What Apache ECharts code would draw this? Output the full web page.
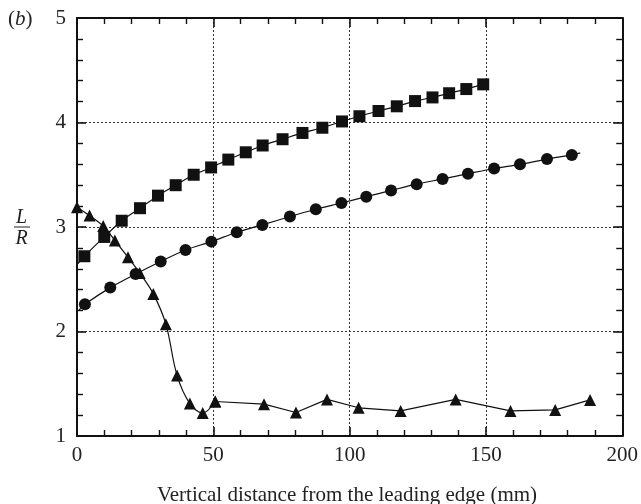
<!DOCTYPE html>
<html>
<head>
<meta charset="utf-8">
<script src="https://cdn.jsdelivr.net/npm/echarts@6/dist/echarts.min.js"></script>
<style>
html,body{margin:0;padding:0;background:#fff;}
#chart{width:641px;height:504px;}
</style>
</head>
<body>
<div id="chart"></div>
<script>
// ---- data ----
const xTickLabels = [0, 50, 100, 150, 200];
const yTickLabels = [1, 2, 3, 4, 5];

// squares: x (mm), L/R
const squareX = [2.7, 10.0, 16.4, 23.1, 29.7, 36.2, 42.8, 49.2, 55.5, 61.9, 68.1, 75.4, 82.7, 90.0, 97.2, 103.6, 110.6, 117.3, 124.0, 130.4, 136.5, 142.8, 149.0];
const squareY = [2.72, 2.905, 3.06, 3.18, 3.30, 3.40, 3.50, 3.57, 3.645, 3.715, 3.78, 3.84, 3.90, 3.95, 4.01, 4.06, 4.11, 4.155, 4.205, 4.24, 4.28, 4.32, 4.365];
const squareFitStart = [0, 2.64];

// circles
const circleX = [2.9, 12.2, 21.5, 30.7, 39.8, 49.3, 58.6, 68.0, 78.1, 87.6, 97.0, 106.1, 115.2, 124.6, 134.1, 143.4, 153.0, 162.5, 172.4, 181.5];
const circleY = [2.26, 2.42, 2.55, 2.67, 2.78, 2.86, 2.95, 3.02, 3.10, 3.17, 3.23, 3.29, 3.35, 3.41, 3.46, 3.51, 3.56, 3.60, 3.65, 3.69];
const circleFitStart = [0.6, 2.20];
const circleFitEnd = [184.6, 3.71];

// triangles
const triX = [0, 4.6, 9.6, 13.9, 18.7, 23.0, 28.0, 32.6, 36.7, 41.4, 46.1, 50.7, 68.6, 80.3, 91.7, 103.3, 118.7, 138.9, 159.0, 175.4, 188.2];
const triY = [3.19, 3.11, 3.01, 2.87, 2.71, 2.56, 2.36, 2.07, 1.58, 1.31, 1.22, 1.33, 1.305, 1.225, 1.35, 1.27, 1.24, 1.35, 1.24, 1.25, 1.345];
const triSmoothCount = 12; // first part of the curve is drawn smoothed

// ---- build series data ----
const pairs = (xs, ys) => xs.map((x, i) => [x, ys[i]]);
const noSym = p => ({ value: p, symbol: 'none' });

const squareData = [noSym(squareFitStart)].concat(pairs(squareX, squareY));
const circleData = [noSym(circleFitStart)].concat(pairs(circleX, circleY), [noSym(circleFitEnd)]);
const triAll = pairs(triX, triY);
const triA = triAll.slice(0, triSmoothCount);
const triB = triAll.slice(triSmoothCount - 1);

const FONT = "'Liberation Serif', 'Times New Roman', serif";
const INK = '#111';

const chart = echarts.init(document.getElementById('chart'), null, { renderer: 'canvas' });

const tickCommon = {
  axisLine: { show: true, onZero: false, lineStyle: { color: INK, width: 2 } },
  axisTick: { show: true, inside: true, length: 9, lineStyle: { color: INK, width: 1.6 } },
  minorTick: { show: true, splitNumber: 5, length: 6, lineStyle: { color: INK, width: 1.4 } }
};

const xMin = xTickLabels[0], xMax = xTickLabels[xTickLabels.length - 1];
const xInt = xTickLabels[1] - xTickLabels[0];
const yMin = yTickLabels[0], yMax = yTickLabels[yTickLabels.length - 1];
const yInt = yTickLabels[1] - yTickLabels[0];

const lineStyle = { color: INK, width: 1.2 };

chart.setOption({
  animation: false,
  backgroundColor: '#fff',
  grid: { left: 77, right: 17, top: 18, bottom: 68, containLabel: false },
  xAxis: [
    Object.assign({
      type: 'value', position: 'bottom', min: xMin, max: xMax, interval: xInt,
      axisLabel: { show: true, margin: 9, fontFamily: FONT, fontSize: 21, color: '#222' },
      splitLine: { show: true, lineStyle: { color: '#333', type: [2, 2], width: 1 } }
    }, tickCommon),
    Object.assign({
      type: 'value', position: 'top', min: xMin, max: xMax, interval: xInt,
      axisLabel: { show: false }, splitLine: { show: false }
    }, tickCommon)
  ],
  yAxis: [
    Object.assign({
      type: 'value', position: 'left', min: yMin, max: yMax, interval: yInt,
      axisLabel: { show: true, margin: 11, fontFamily: FONT, fontSize: 21, color: '#222' },
      splitLine: { show: true, lineStyle: { color: '#333', type: [2, 2], width: 1 } }
    }, tickCommon),
    Object.assign({
      type: 'value', position: 'right', min: yMin, max: yMax, interval: yInt,
      axisLabel: { show: false }, splitLine: { show: false }
    }, tickCommon)
  ],
  series: [
    {
      type: 'line', data: squareData, smooth: 0.3, symbol: 'rect', symbolSize: 12,
      lineStyle: lineStyle, itemStyle: { color: INK }, clip: false, z: 3
    },
    {
      type: 'line', data: circleData, smooth: 0.3, symbol: 'circle', symbolSize: 12,
      lineStyle: lineStyle, itemStyle: { color: INK }, clip: false, z: 3
    },
    {
      type: 'line', data: triA, smooth: 0.35, symbol: 'triangle', symbolSize: 12,
      lineStyle: lineStyle, itemStyle: { color: INK }, clip: false, z: 3
    },
    {
      type: 'line', data: triB, smooth: false, symbol: 'triangle', symbolSize: 12,
      lineStyle: lineStyle, itemStyle: { color: INK }, clip: false, z: 3
    }
  ],
  graphic: [
    {
      type: 'text', left: 8, top: 9,
      style: {
        text: '({i|b})', fontFamily: FONT, fontSize: 21, fill: '#222',
        rich: { i: { fontStyle: 'italic', fontFamily: FONT, fontSize: 21, fill: '#222' } }
      }
    },
    {
      type: 'text', x: 21.5, y: 218, style: { text: 'L', fontFamily: FONT, fontStyle: 'italic', fontSize: 20, fill: '#222', align: 'center', verticalAlign: 'middle' }
    },
    {
      type: 'line', shape: { x1: 14, y1: 227, x2: 30, y2: 227 }, style: { stroke: '#222', lineWidth: 1 }
    },
    {
      type: 'text', x: 21.5, y: 239, style: { text: 'R', fontFamily: FONT, fontStyle: 'italic', fontSize: 20, fill: '#222', align: 'center', verticalAlign: 'middle' }
    },
    {
      type: 'text', x: 347, y: 495,
      style: { text: 'Vertical distance from the leading edge (mm)', fontFamily: FONT, fontSize: 21, fill: '#222', align: 'center', verticalAlign: 'middle' }
    }
  ]
});
</script>
</body>
</html>
